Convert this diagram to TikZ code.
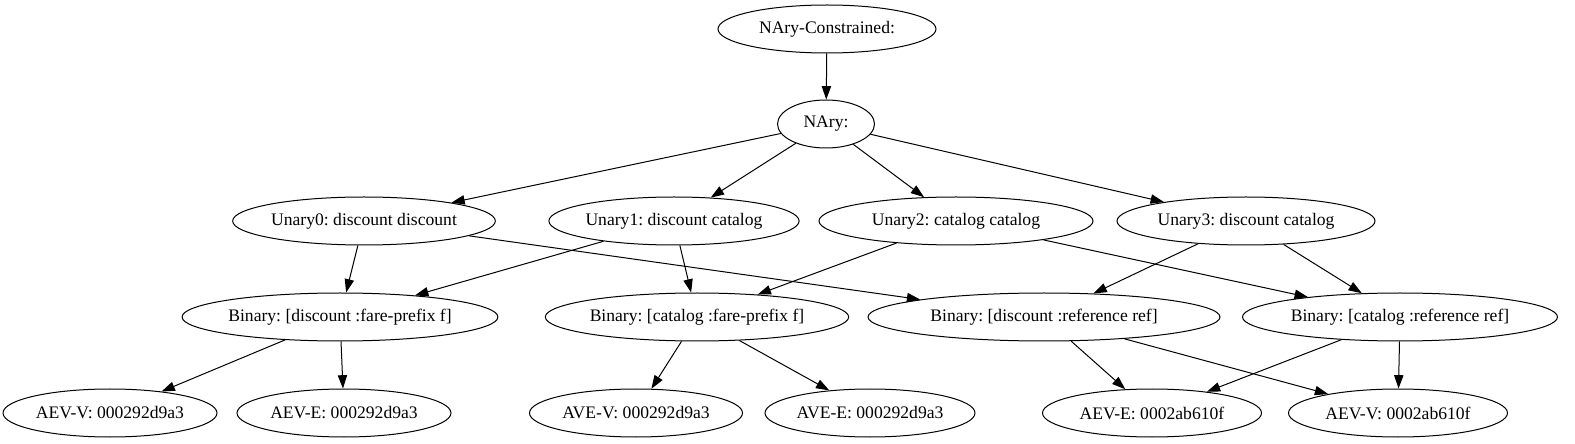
\documentclass[tikz,border=0pt]{standalone}
\usepackage{fontspec}
\setmainfont{Liberation Serif}
\usepackage{tikz}
\usetikzlibrary{positioning,shapes,arrows.meta}
\frenchspacing

\begin{document}
\begin{tikzpicture}[x=0.75pt,y=0.75pt,
  op/.style={draw, ellipse, inner sep=0pt, minimum height=36pt, line width=0.75pt,
    font=\fontsize{13.2}{15}\selectfont},
  edge/.style={-{Triangle[length=10pt,width=7pt]}, line width=0.75pt}]
\useasboundingbox (0,0) rectangle (1575,443);

% Root and n-ary node
\node[op, minimum width=163.5pt] (root) at (827,414) {NAry-Constrained:};
\node[op, minimum width=72.75pt] (nary) at (826,319) {NAry:};

% Unary row
\node[op, minimum width=193.5pt] (u0) at (364,222) {Unary0: discount discount};
\node[op, minimum width=186pt] (u1) at (674,222) {Unary1: discount catalog};
\node[op, minimum width=205.5pt] (u2) at (956,222) {Unary2: catalog catalog};
\node[op, minimum width=193.5pt] (u3) at (1246,222) {Unary3: discount catalog};

% Binary row
\node[op, minimum width=228pt] (b0) at (340,126) {Binary: [discount :fare-prefix f]};
\node[op, minimum width=219.75pt] (b1) at (697,126) {Binary: [catalog :fare-prefix f]};
\node[op, minimum width=264pt] (b2) at (1044,126) {Binary: [discount :reference ref]};
\node[op, minimum width=236.25pt] (b3) at (1400,126) {Binary: [catalog :reference ref]};

% Leaves
\node[op, minimum width=160.5pt] (l0) at (110,30) {AEV-V: 000292d9a3};
\node[op, minimum width=160.5pt] (l1) at (344,30) {AEV-E: 000292d9a3};
\node[op, minimum width=159.75pt] (l2) at (636,30) {AVE-V: 000292d9a3};
\node[op, minimum width=157.5pt] (l3) at (870,30) {AVE-E: 000292d9a3};
\node[op, minimum width=164.25pt] (l4) at (1152,30) {AEV-E: 0002ab610f};
\node[op, minimum width=164.25pt] (l5) at (1398,30) {AEV-V: 0002ab610f};

% Edges
\draw[edge] (root) -- (nary);
\foreach \u in {u0,u1,u2,u3}
  \draw[edge] (nary) -- (\u);
\foreach \s/\t in {u0/b0, u0/b2, u1/b0, u1/b1, u2/b1, u2/b3, u3/b2, u3/b3,
                   b0/l0, b0/l1, b1/l2, b1/l3, b2/l4, b2/l5, b3/l4, b3/l5}
  \draw[edge] (\s) -- (\t);

\end{tikzpicture}
\end{document}
